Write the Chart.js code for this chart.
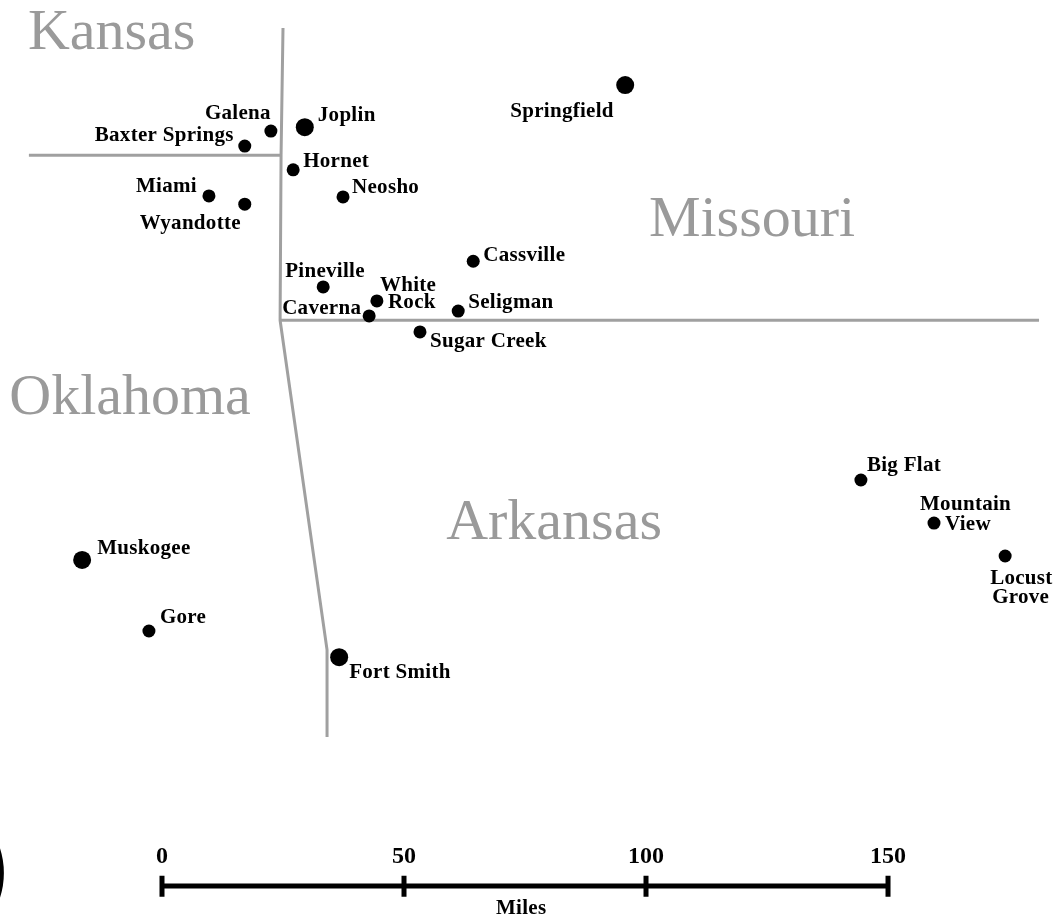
<!DOCTYPE html>
<html>
<head>
<meta charset="utf-8">
<title>Map</title>
<script src="https://cdn.jsdelivr.net/npm/chart.js@4"></script>
<style>
  html, body { margin: 0; padding: 0; background: #fff; }
  canvas { display: block; }
</style>
</head>
<body>
<canvas id="map" width="1055" height="919"></canvas>
<script>
// everything is in miles, measured against the scale bar
const cityNames = ['Springfield', 'Joplin', 'Muskogee', 'Fort Smith'];
const cityX = [95.7, 29.5, -16.5, 36.6];
const cityY = [172.3, 163.6, 74.2, 54.1];

const townNames = ['Galena', 'Baxter Springs', 'Hornet', 'Neosho', 'Miami', 'Wyandotte', 'Cassville',
    'Pineville', 'White Rock', 'Caverna', 'Seligman', 'Sugar Creek', 'Big Flat', 'Mountain View',
    'Locust Grove', 'Gore'];
const townX = [22.5, 17.1, 27.1, 37.4, 9.7, 17.1, 64.3, 33.3, 44.4, 42.8, 61.2, 53.3, 144.4, 159.5, 174.2, -2.7];
const townY = [162.8, 159.7, 154.8, 149.2, 149.4, 147.7, 135.9, 130.6, 127.7, 124.6, 125.6, 121.3, 90.7, 81.8, 75, 59.5];

const stateNames = ['Kansas', 'Missouri', 'Oklahoma', 'Arkansas'];
const stateX = [-10.4, 121.9, -6.6, 81];
const stateY = [182.9, 144.2, 107.5, 81.6];

// state lines
const westLineX = [25, 24.6, 24.4, 34.1, 34.1];
const westLineY = [184.1, 157.9, 123.7, 55.6, 37.6];
const kansasLineX = [-27.5, 24.6];
const kansasLineY = [157.8, 157.8];
const arkansasLineX = [24.4, 181.2];
const arkansasLineY = [123.7, 123.7];

// scale bar
const scaleTicks = [0, 50, 100, 150];
const scaleY = 6.8;
const scaleTickTop = 8.95;
const scaleTickBottom = 4.6;

function toPoints(xs, ys) {
    return xs.map((x, i) => ({ x: x, y: ys[i] }));
}

function lineDataset(data, color, width) {
    return {
        data: data,
        showLine: true,
        borderColor: color,
        borderWidth: width,
        pointRadius: 0,
        borderCapStyle: 'butt',
        tension: 0
    };
}

// pixel offset from the dot to each line of its label
const labelOffsets = {
    'Springfield': [[-115, 26, 'Springfield']],
    'Joplin': [[13, -12, 'Joplin']],
    'Muskogee': [[15, -11, 'Muskogee']],
    'Fort Smith': [[10, 15, 'Fort Smith']],
    'Galena': [[-66, -17, 'Galena']],
    'Baxter Springs': [[-150, -10, 'Baxter Springs']],
    'Hornet': [[10, -8, 'Hornet']],
    'Neosho': [[9, -9, 'Neosho']],
    'Miami': [[-73, -9, 'Miami']],
    'Wyandotte': [[-105, 19, 'Wyandotte']],
    'Cassville': [[10, -6, 'Cassville']],
    'Pineville': [[-38, -15, 'Pineville']],
    'White Rock': [[3, -15, 'White'], [11, 2, 'Rock']],
    'Caverna': [[-87, -7, 'Caverna']],
    'Seligman': [[10, -9, 'Seligman']],
    'Sugar Creek': [[10, 10, 'Sugar Creek']],
    'Big Flat': [[6, -14, 'Big Flat']],
    'Mountain View': [[-14, -19, 'Mountain'], [11, 1, 'View']],
    'Locust Grove': [[-15, 23, 'Locust'], [-13, 42, 'Grove']],
    'Gore': [[11, -13, 'Gore']]
};

const mapLabels = {
    id: 'mapLabels',
    afterDatasetsDraw(chart) {
        const ctx = chart.ctx;
        const xs = chart.scales.x;
        const ys = chart.scales.y;
        ctx.save();
        ctx.textBaseline = 'middle';

        ctx.fillStyle = '#9a9a9a';
        ctx.font = '58px "Liberation Serif"';
        ctx.textAlign = 'center';
        stateNames.forEach((name, i) => {
            ctx.fillText(name, xs.getPixelForValue(stateX[i]), ys.getPixelForValue(stateY[i]));
        });

        ctx.fillStyle = '#000';
        ctx.font = 'bold 21px "Liberation Serif"';
        ctx.letterSpacing = '0.3px';
        ctx.textAlign = 'left';
        const placeLabels = (names, px, py) => names.forEach((name, i) => {
            labelOffsets[name].forEach(line => {
                ctx.fillText(line[2], xs.getPixelForValue(px[i]) + line[0], ys.getPixelForValue(py[i]) + line[1]);
            });
        });
        placeLabels(cityNames, cityX, cityY);
        placeLabels(townNames, townX, townY);

        ctx.textAlign = 'center';
        ctx.font = 'bold 21px "Liberation Serif"';
        ctx.fillText('Miles', xs.getPixelForValue(74.2), ys.getPixelForValue(2.1));
        ctx.restore();
    }
};

new Chart(document.getElementById('map'), {
    type: 'scatter',
    data: {
        datasets: [
            { data: toPoints(cityX, cityY), pointRadius: 9, pointBackgroundColor: '#000', pointBorderWidth: 0 },
            { data: toPoints(townX, townY), pointRadius: 6.5, pointBackgroundColor: '#000', pointBorderWidth: 0 },
            lineDataset(toPoints(westLineX, westLineY), '#a0a0a0', 3),
            lineDataset(toPoints(kansasLineX, kansasLineY), '#a0a0a0', 3),
            lineDataset(toPoints(arkansasLineX, arkansasLineY), '#a0a0a0', 3),
            lineDataset(toPoints([scaleTicks[0], scaleTicks[3]], [scaleY, scaleY]), '#000', 5)
        ].concat(scaleTicks.map(t => lineDataset([{ x: t, y: scaleTickTop }, { x: t, y: scaleTickBottom }], '#000', 5)))
         .concat([{
            // edge of the compass ring, cut off by the left side of the picture
            data: [{ x: -49.3, y: 9.5 }],
            pointRadius: 78,
            pointBackgroundColor: 'rgba(0,0,0,0)',
            pointBorderColor: '#000',
            pointBorderWidth: 5
        }])
    },
    options: {
        responsive: false,
        animation: false,
        layout: { padding: 0, autoPadding: false },
        plugins: { legend: { display: false }, tooltip: { enabled: false } },
        scales: {
            x: {
                type: 'linear',
                min: -33.47,
                max: 184.5,
                position: { y: 15.9 },
                afterBuildTicks: axis => { axis.ticks = scaleTicks.map(v => ({ value: v })); },
                grid: { display: false, drawTicks: false },
                border: { display: false },
                ticks: {
                    autoSkip: false,
                    maxRotation: 0,
                    padding: 0,
                    color: '#000',
                    font: { family: '"Liberation Serif"', size: 24, weight: 'bold' }
                }
            },
            y: { type: 'linear', min: 0, max: 189.88, display: false }
        }
    },
    plugins: [mapLabels]
});
</script>
</body>
</html>
